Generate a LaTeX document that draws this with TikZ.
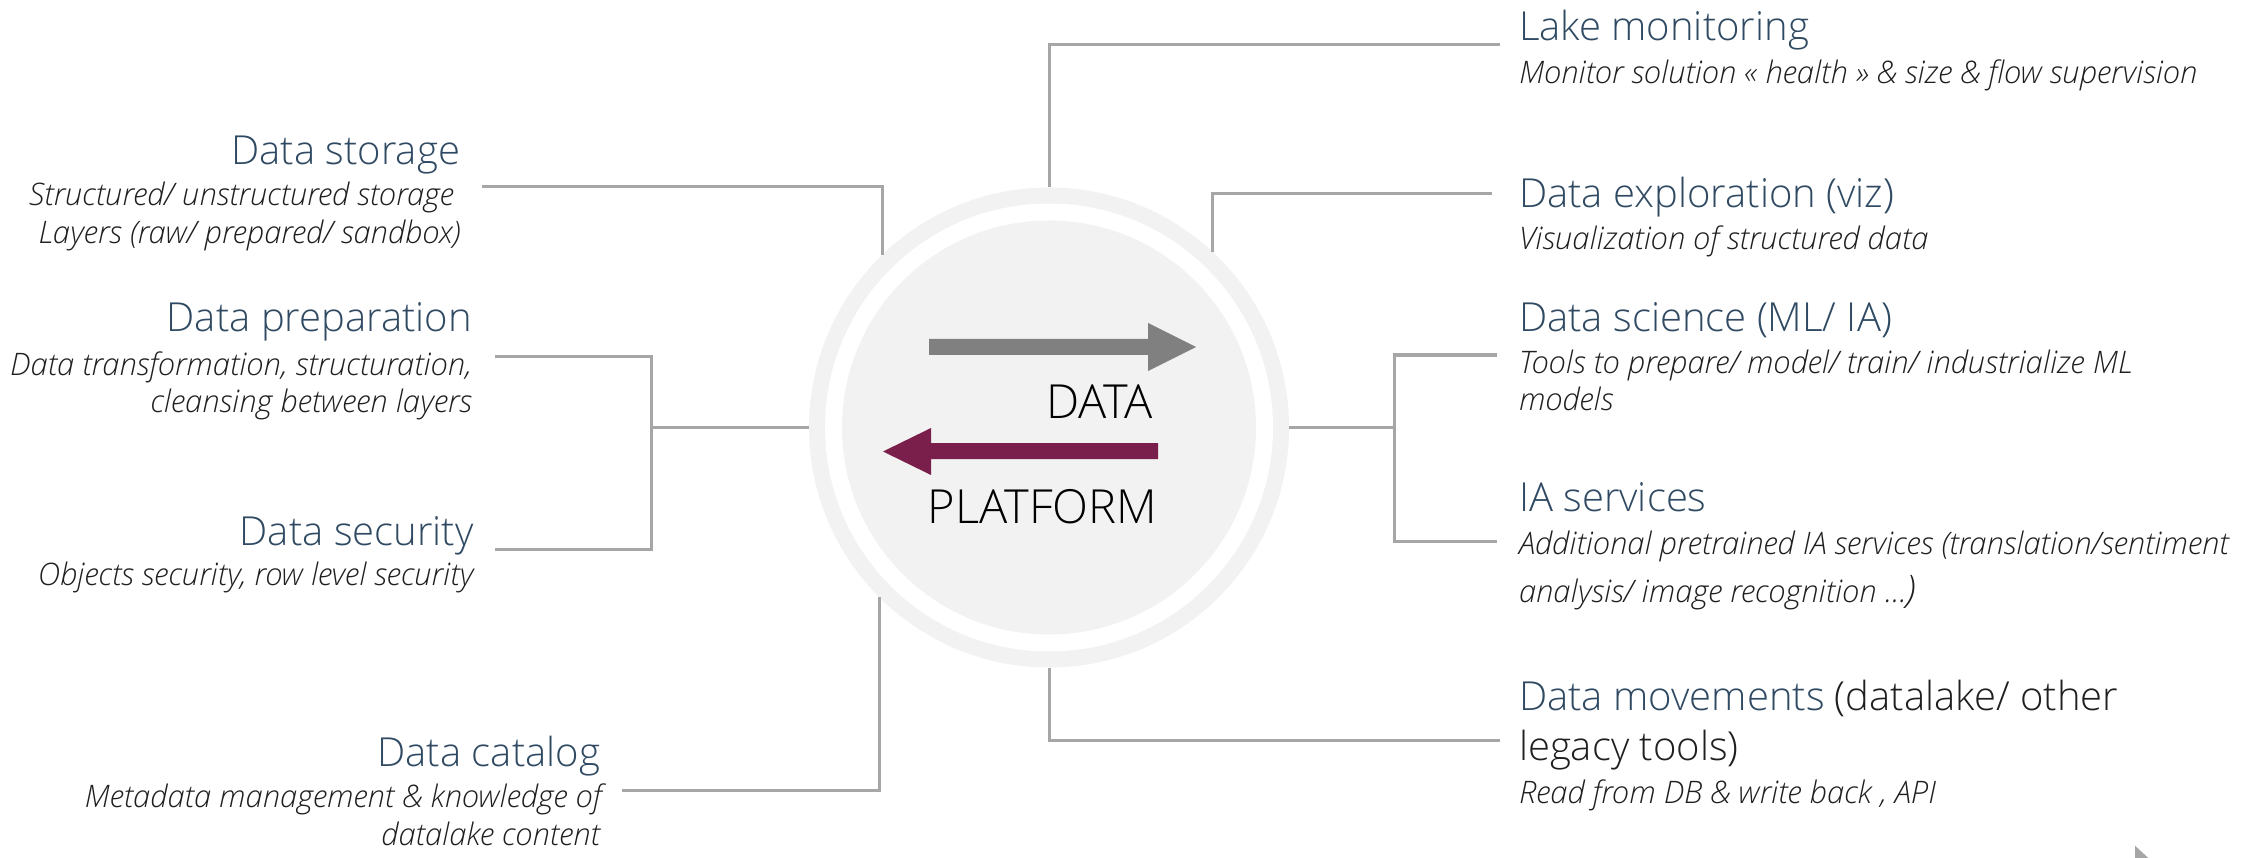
\documentclass[tikz,border=0pt]{standalone}
\usepackage{fontspec}
\setmainfont{Open Sans}[UprightFont={* Light}, ItalicFont={* Light Italic}]
\definecolor{ttlc}{HTML}{2F4A62}
\definecolor{dscc}{HTML}{1F1F1F}
\definecolor{linec}{HTML}{A6A6A6}
\definecolor{ringc}{HTML}{F2F2F2}
\definecolor{arrg}{HTML}{808080}
\definecolor{arrm}{HTML}{7A1F4B}
\tikzset{
  conn/.style={draw=linec, line width=3pt},
  ttl/.style={inner sep=0pt, outer sep=0pt, text=ttlc, font=\fontsize{40}{40}\selectfont},
  dsc/.style={inner sep=0pt, outer sep=0pt, text=dscc, font=\fontsize{31}{31}\selectfont\itshape},
  lft/.style={anchor=base east},
  rgt/.style={anchor=base west},
  disc/.style={circle, inner sep=0pt, outer sep=0pt, draw=none},
  big/.style={inner sep=0pt, outer sep=0pt, text=black, font=\fontsize{47}{47}\selectfont}
}
\begin{document}
\begin{tikzpicture}[x=1pt,y=-1pt]
\useasboundingbox (0,0) rectangle (2253,858);
\fill[white] (0,0) rectangle (2253,858);

% central disc
\node[disc, fill=ringc, minimum size=480pt] (plat) at (1049,427.5) {};
\node[disc, fill=white, minimum size=448pt] (gap) at (1049,427.5) {};
\node[disc, fill=ringc, minimum size=414pt] (core) at (1049,427.5) {};

% arrows
\fill[arrg] (929,339) -- (1148,339) -- (1148,323) -- (1196,347) -- (1148,371) -- (1148,355) -- (929,355) -- cycle;
\fill[arrm] (1158,443) -- (931,443) -- (931,428) -- (883,451.5) -- (931,475) -- (931,459) -- (1158,459) -- cycle;
\node[big, anchor=base east] (data) at (1153,418) {DATA};
\node[big, anchor=base east] (platform) at (1157,523) {PLATFORM};

% right side texts
\node[ttl, rgt] (lakeT) at (1519,41) {Lake monitoring};
\node[dsc, rgt] (lakeD) at (1519,83.5) {Monitor solution « health » \& size \& flow supervision};
\node[ttl, rgt] (explT) at (1519,208) {Data exploration (viz)};
\node[dsc, rgt] (explD) at (1519,250) {Visualization of structured data};
\node[ttl, rgt] (sciT) at (1519,331) {Data science (ML/ IA)};
\node[dsc, rgt] (sciD1) at (1519,373.5) {Tools to prepare/ model/ train/ industrialize ML};
\node[dsc, rgt] (sciD2) at (1519,410.5) {models};
\node[ttl, rgt] (iaT) at (1519,511.5) {IA services};
\node[dsc, rgt] (iaD1) at (1519,554) {Additional pretrained IA services (translation/sentiment};
\node[dsc, rgt] (iaD2) at (1519,602) {analysis/ image recognition ...{\fontsize{38}{38}\selectfont)}};
\node[ttl, rgt] (movT) at (1519,710) {Data movements \textcolor{dscc}{(datalake/ other}};
\node[ttl, rgt, text=dscc] (movT2) at (1519,760) {legacy tools)};
\node[dsc, rgt] (movD) at (1519,803.5) {Read from DB \& write back , API};

% left side texts
\node[ttl, lft] (stoT) at (460,164.3) {Data storage};
\node[dsc, lft] (stoD1) at (454,205.3) {Structured/ unstructured storage};
\node[dsc, lft] (stoD2) at (461,243.7) {Layers (raw/ prepared/ sandbox)};
\node[ttl, lft] (prepT) at (472,331.7) {Data preparation};
\node[dsc, lft] (prepD1) at (472,375) {Data transformation, structuration,};
\node[dsc, lft] (prepD2) at (472,412) {cleansing between layers};
\node[ttl, lft] (secT) at (473.6,545) {Data security};
\node[dsc, lft] (secD) at (473.6,585.3) {Objects security, row level security};
\node[ttl, lft] (catT) at (600,766.7) {Data catalog};
\node[dsc, lft] (catD1) at (601.6,807) {Metadata management \& knowledge of};
\node[dsc, lft] (catD2) at (600,845) {datalake content};

% connector ends
\coordinate (lakeE) at (1500,45);
\coordinate (explE) at (1492,194);
\coordinate (rmid) at (1394,427.5);
\coordinate (sciE) at (1497,355);
\coordinate (iaE) at (1497,541.7);
\coordinate (movE) at (1500,740.7);
\coordinate (stoE) at (482,186.7);
\coordinate (lmid) at (651.6,427.5);
\coordinate (prepE) at (495,356.7);
\coordinate (secE) at (495,549);
\coordinate (catE) at (621.7,790.7);

% connectors
\draw[conn] (plat.north) |- (lakeE);
\draw[conn] (plat.47.2) |- (explE);
\draw[conn] (plat.east) -- (rmid);
\draw[conn] (sciE) -| (rmid) |- (iaE);
\draw[conn] (plat.south) |- (movE);
\draw[conn] (plat.134.8) |- (stoE);
\draw[conn] (plat.west) -- (lmid);
\draw[conn] (prepE) -| (lmid) |- (secE);
\draw[conn] (plat.225.2) |- (catE);

% corner mark
\fill[linec] (2135,845.7) -- (2148.3,858) -- (2135,858) -- cycle;
\end{tikzpicture}
\end{document}
